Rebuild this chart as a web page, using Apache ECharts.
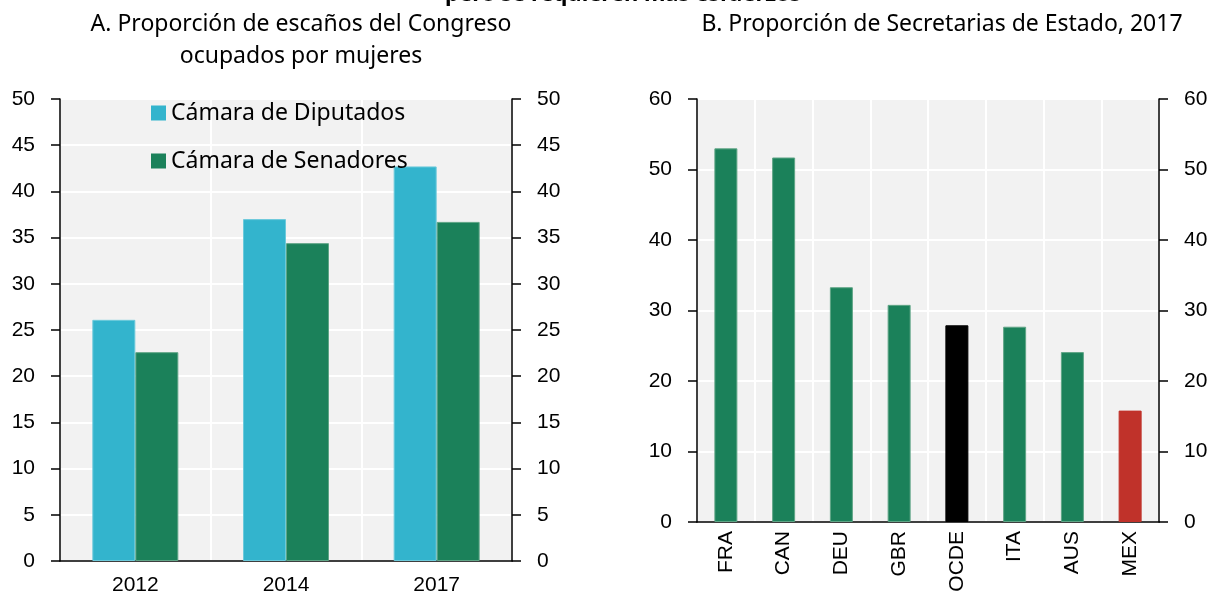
<!DOCTYPE html>
<html>
<head>
<meta charset="utf-8">
<script src="https://cdn.jsdelivr.net/npm/echarts@6/dist/echarts.min.js"></script>
<style>
  html, body { margin: 0; padding: 0; background: #fff; }
  #main { width: 1215px; height: 596px; }
</style>
</head>
<body>
<div id="main"></div>
<script>
  // Panel A: escaños del Congreso ocupados por mujeres (%)
  const years = ['2012', '2014', '2017'];
  const diputados = [26.1, 37.0, 42.7];
  const senadores = [22.6, 34.4, 36.7];

  // Panel B: Secretarias de Estado, 2017 (%)
  const countries = ['FRA', 'CAN', 'DEU', 'GBR', 'OCDE', 'ITA', 'AUS', 'MEX'];
  const secretarias = [53.0, 51.7, 33.3, 30.8, 27.9, 27.7, 24.1, 15.8];

  const chart = echarts.init(document.getElementById('main'));

  const tickFont = { fontFamily: 'Liberation Sans', fontSize: 21, color: '#000' };
  const titleFont = 'Noto Sans';

  // colores
  const cyan = '#33b4cd';
  const green = '#1b815a';
  const barColor = (name) => name === 'OCDE' ? '#000000' : (name === 'MEX' ? '#c0322a' : green);
  const barBorder = (name) => name === 'OCDE' ? '#000000' : (name === 'MEX' ? '#c0322a' : '#5fa586');

  // eje de valores con línea negra y marcas hacia fuera
  const valueAxis = (grid, pos, max, step) => ({
    type: 'value', gridIndex: grid, position: pos, min: 0, max: max, interval: step, z: 3,
    axisLine: { show: true, lineStyle: { color: '#000', width: 1.5 } },
    axisTick: { show: true, length: 9, lineStyle: { color: '#000', width: 1.5 } },
    axisLabel: Object.assign({ margin: 25 }, tickFont),
    splitLine: { show: false }
  });
  // eje solo para las líneas de la cuadrícula (debajo de todo)
  const gridAxis = (grid, max, step) => ({
    type: 'value', gridIndex: grid, min: 0, max: max, interval: step, z: 0,
    axisLine: { show: false }, axisTick: { show: false }, axisLabel: { show: false },
    splitLine: { show: true, lineStyle: { color: '#ffffff', width: 2 } }
  });

  const option = {
    animation: false,
    graphic: [
      { type: 'text', x: 623, y: -16, style: { text: 'pero se requieren más esfuerzos', fontFamily: titleFont, fontWeight: 'bold', fontSize: 22, lineHeight: 22, fill: '#000', textAlign: 'center', textVerticalAlign: 'top' } },
      { type: 'text', x: 301, y: 8, style: { text: 'A. Proporción de escaños del Congreso\nocupados por mujeres', fontFamily: titleFont, fontSize: 23, lineHeight: 32, fill: '#000', textAlign: 'center', textVerticalAlign: 'top' } },
      { type: 'text', x: 942, y: 8, style: { text: 'B. Proporción de Secretarias de Estado, 2017', fontFamily: titleFont, fontSize: 23, lineHeight: 32, fill: '#000', textAlign: 'center', textVerticalAlign: 'top' } }
    ],
    legend: {
      data: ['Cámara de Diputados', 'Cámara de Senadores'],
      orient: 'vertical', left: 151, top: 101, padding: 0,
      itemWidth: 15, itemHeight: 15, itemGap: 24,
      icon: 'rect', selectedMode: false,
      itemStyle: { borderWidth: 0 },
      textStyle: { fontFamily: titleFont, fontSize: 23, lineHeight: 24, color: '#000' }
    },
    grid: [
      { left: 60, right: 703, top: 99, bottom: 35, show: true, backgroundColor: '#f2f2f2', borderWidth: 0 },
      { left: 697, right: 56, top: 99, bottom: 74, show: true, backgroundColor: '#f2f2f2', borderWidth: 0 }
    ],
    xAxis: [
      {
        type: 'category', gridIndex: 0, data: years, z: 1,
        axisLine: { lineStyle: { color: '#000', width: 1.5 } },
        axisTick: { length: 9, lineStyle: { color: '#000', width: 1.5 } },
        axisLabel: Object.assign({ margin: 14 }, tickFont),
        splitLine: { show: true, lineStyle: { color: '#ffffff', width: 2 } }
      },
      {
        type: 'category', gridIndex: 1, data: countries, z: 1,
        axisLine: { lineStyle: { color: '#000', width: 1.5 } },
        axisTick: { length: 9, lineStyle: { color: '#000', width: 1.5 } },
        axisLabel: { margin: 9, rotate: 90, interval: 0, fontFamily: 'Liberation Sans', fontSize: 21, color: '#000' },
        splitLine: { show: true, lineStyle: { color: '#ffffff', width: 2 } }
      }
    ],
    yAxis: [
      gridAxis(0, 50, 5),
      valueAxis(0, 'left', 50, 5),
      valueAxis(0, 'right', 50, 5),
      gridAxis(1, 60, 10),
      valueAxis(1, 'left', 60, 10),
      valueAxis(1, 'right', 60, 10)
    ],
    series: [
      {
        name: 'Cámara de Diputados', type: 'bar', xAxisIndex: 0, yAxisIndex: 1,
        data: diputados, barWidth: 43, barGap: '0%',
        itemStyle: { color: cyan, borderColor: '#6ccadb', borderWidth: 1 }
      },
      {
        name: 'Cámara de Senadores', type: 'bar', xAxisIndex: 0, yAxisIndex: 1,
        data: senadores, barWidth: 43, barGap: '0%',
        itemStyle: { color: green, borderColor: '#5fa586', borderWidth: 1 }
      },
      {
        name: 'Secretarias de Estado', type: 'bar', xAxisIndex: 1, yAxisIndex: 4,
        barWidth: 23,
        data: secretarias.map((v, i) => ({
          value: v,
          itemStyle: { color: barColor(countries[i]), borderColor: barBorder(countries[i]), borderWidth: 1 }
        }))
      }
    ]
  };

  chart.setOption(option);
  window.addEventListener('resize', () => chart.resize());
</script>
</body>
</html>
